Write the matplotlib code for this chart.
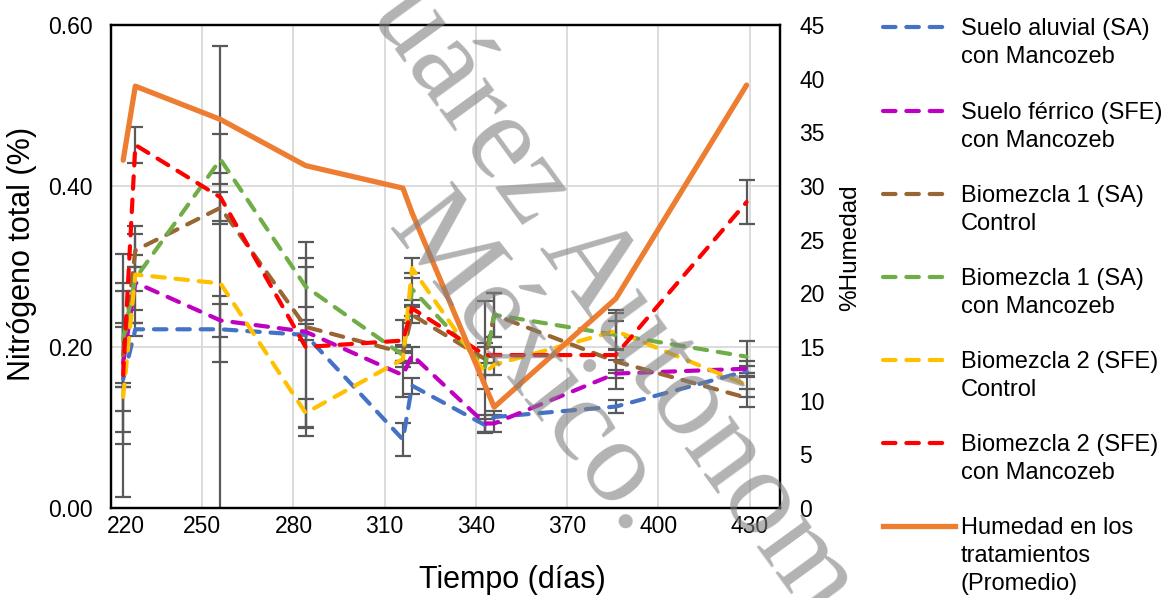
import numpy as np
import matplotlib.pyplot as plt
from matplotlib.lines import Line2D
from matplotlib.ticker import FormatStrFormatter, MultipleLocator
from matplotlib.transforms import ScaledTranslation

plt.rcParams['font.family'] = ['Liberation Sans', 'DejaVu Sans']

# sampling days (dias)
dias = [224, 228, 256, 284, 316, 319, 343, 346, 386, 429]

# nitrogeno total (%) and error bars per treatment
sa_manc = [0.160, 0.222, 0.222, 0.215, 0.085, 0.152, 0.103, 0.113, 0.126, 0.170]
sa_manc_err = [0.065, 0.008, 0.041, 0.116, 0.020, 0.010, 0.008, 0.008, 0.008, 0.007]
sfe_manc = [0.180, 0.280, 0.233, 0.219, 0.165, 0.190, 0.105, 0.105, 0.167, 0.173]
sfe_manc_err = [0.100, 0.034, 0.020, 0.010, 0.027, 0.010, 0.010, 0.010, 0.005, 0.009]
bio1_ctrl = [0.190, 0.320, 0.373, 0.225, 0.193, 0.240, 0.185, 0.240, 0.182, 0.137]
bio1_ctrl_err = [0.040, 0.020, 0.020, 0.009, 0.010, 0.010, 0.020, 0.027, 0.014, 0.011]
bio1_manc = [0.210, 0.285, 0.433, 0.275, 0.190, 0.272, 0.175, 0.240, 0.215, 0.188]
bio1_manc_err = [0.060, 0.015, 0.031, 0.025, 0.010, 0.020, 0.082, 0.027, 0.031, 0.020]
bio2_ctrl = [0.138, 0.290, 0.279, 0.118, 0.185, 0.298, 0.168, 0.178, 0.220, 0.153]
bio2_ctrl_err = [0.017, 0.060, 0.295, 0.017, 0.010, 0.012, 0.020, 0.013, 0.022, 0.015]
bio2_manc = [0.165, 0.451, 0.386, 0.200, 0.208, 0.248, 0.190, 0.190, 0.190, 0.380]
bio2_manc_err = [0.151, 0.022, 0.030, 0.110, 0.025, 0.010, 0.010, 0.010, 0.042, 0.027]

# humedad promedio (%)
dias_hum = [224, 228, 256, 284, 316, 319, 346, 386, 429]
humedad = [32.4, 39.3, 36.2, 31.9, 29.8, 27.5, 9.4, 19.5, 39.4]

series = [
    (sa_manc, sa_manc_err, '#4472C4', 'Suelo aluvial (SA)\ncon Mancozeb'),
    (sfe_manc, sfe_manc_err, '#C000C0', 'Suelo férrico (SFE)\ncon Mancozeb'),
    (bio1_ctrl, bio1_ctrl_err, '#996633', 'Biomezcla 1 (SA)\nControl'),
    (bio1_manc, bio1_manc_err, '#70AD47', 'Biomezcla 1 (SA)\ncon Mancozeb'),
    (bio2_ctrl, bio2_ctrl_err, '#FFC000', 'Biomezcla 2 (SFE)\nControl'),
    (bio2_manc, bio2_manc_err, '#FF0000', 'Biomezcla 2 (SFE)\ncon Mancozeb'),
]
hum_color = '#ED7D31'
hum_label = 'Humedad en los\ntratamientos\n(Promedio)'

W, H = 1165, 598
fig = plt.figure(figsize=(W / 100, H / 100), dpi=100)
ax = fig.add_axes([111 / W, 1 - 508 / H, 669 / W, 483 / H])
ax2 = ax.twinx()

dash_ls = (0, (3.0, 2.6))
dash_lw = 3.0
for vals, err, col, lab in series:
    ax.errorbar(dias, vals, yerr=err, fmt='none', ecolor='#595959',
                elinewidth=1.6, capsize=5.5, capthick=1.6, zorder=2)
for vals, err, col, lab in series:
    ax.plot(dias, vals, color=col, lw=dash_lw, ls=dash_ls,
            dash_capstyle='round', zorder=3)

ax2.plot(dias_hum, humedad, color=hum_color, lw=3.8, solid_capstyle='round')

ax.set_xlim(220, 440)
ax.set_ylim(0, 0.6)
ax2.set_ylim(0, 45)
ax.set_xticks(np.arange(220, 431, 30))
ax.yaxis.set_major_locator(MultipleLocator(0.2))
ax.yaxis.set_major_formatter(FormatStrFormatter('%.2f'))
ax2.yaxis.set_major_locator(MultipleLocator(5))

ax.grid(True, color='#D9D9D9', lw=1.3, zorder=0)
ax.set_axisbelow(True)
for a in (ax, ax2):
    for sp in a.spines.values():
        sp.set_linewidth(1.6)
        sp.set_color('black')
ax.tick_params(axis='both', length=0, labelsize=16.5)
ax.tick_params(axis='y', pad=13)
ax.tick_params(axis='x', pad=5)
ax2.tick_params(axis='y', length=0, labelsize=16.5, pad=14)
# first x label sits a bit to the right, clear of "0.00"
first = ax.get_xticklabels()[0]
first.set_transform(first.get_transform() + ScaledTranslation(0.15, 0, fig.dpi_scale_trans))

ax.set_xlabel('Tiempo (días)', fontsize=22, va='center')
ax.xaxis.set_label_coords(0.6, -0.149)
ax.set_ylabel('Nitrógeno total (%)', fontsize=22, va='center')
ax.yaxis.set_label_coords(-0.133, 0.527)
ax2.set_ylabel('%Humedad', fontsize=17.5, va='center', rotation=90)
ax2.yaxis.set_label_coords(1.1046, 0.538)

# legend drawn entry by entry (multi-line labels, handle on first line)
entries = [(col, lab, True) for vals, err, col, lab in series]
entries.append((hum_color, hum_label, False))
row_y = [27, 111, 194, 277, 360, 443, 526]
for (col, lab, dashed), y0 in zip(entries, row_y):
    if dashed:
        hl = Line2D([883 / W, 948 / W], [1 - y0 / H, 1 - y0 / H], transform=fig.transFigure,
                    color=col, lw=dash_lw, ls=dash_ls, dash_capstyle='round')
    else:
        hl = Line2D([883 / W, 955 / W], [1 - y0 / H, 1 - y0 / H], transform=fig.transFigure,
                    color=col, lw=3.8)
    fig.add_artist(hl)
    for k, line in enumerate(lab.split('\n')):
        fig.text(961 / W, 1 - (y0 + 8 + 28 * k) / H, line, fontsize=17, va='baseline', ha='left')

# watermark
wm = dict(family='Liberation Serif', color='#808080', alpha=0.6,
          rotation_mode='anchor', ha='left', va='baseline', zorder=10)
fig.text(369 / W, 1 - 14 / H, 'uárez Autónom', fontsize=88, rotation=-54, **wm)
fig.text(386 / W, 1 - 228 / H, 'México.', fontsize=86, rotation=-52, **wm)

fig.savefig('out.png', dpi=100)
